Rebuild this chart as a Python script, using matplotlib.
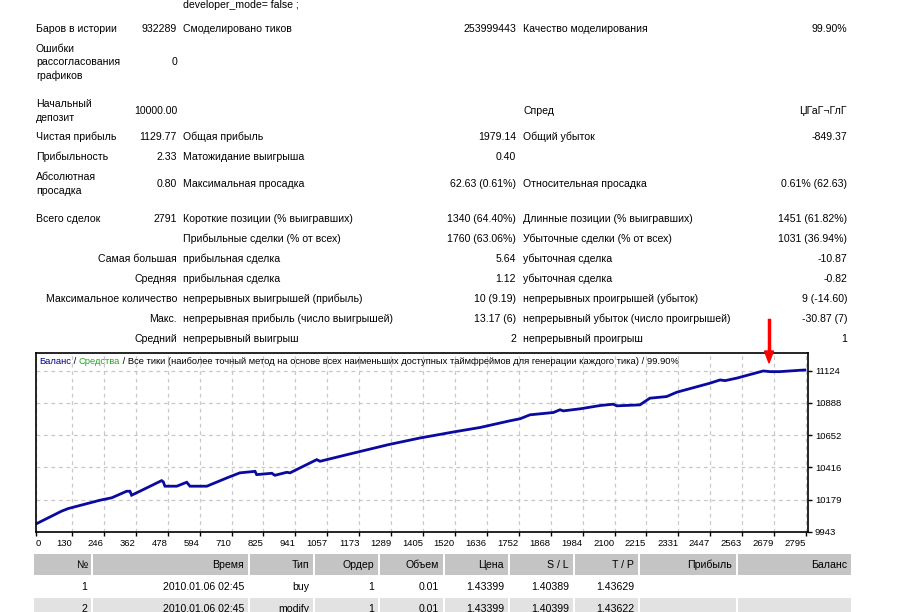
import matplotlib
matplotlib.use("Agg")
import matplotlib.pyplot as plt
from matplotlib.patches import Rectangle, Polygon

# ---------------- data ----------------
trade_no = [0, 93, 117, 232, 275, 329, 341, 347, 377, 456, 462, 468, 511, 547, 559,
            620, 698, 740, 795, 801, 856, 867, 910, 922, 1019, 1031, 1140, 1279,
            1394, 1515, 1612, 1720, 1757, 1793, 1878, 1902, 1914, 1975, 2047, 2095,
            2108, 2192, 2228, 2289, 2326, 2446, 2483, 2501, 2543, 2640, 2664, 2700,
            2773, 2791]
balance = [10000, 10094, 10113, 10174, 10192, 10240, 10240, 10211, 10240, 10318,
           10309, 10277, 10277, 10306, 10277, 10277, 10342, 10375, 10386, 10362,
           10372, 10357, 10379, 10375, 10472, 10460, 10514, 10582, 10631, 10675,
           10708, 10757, 10772, 10801, 10818, 10838, 10830, 10845, 10869, 10879,
           10867, 10874, 10923, 10935, 10967, 11033, 11057, 11052, 11070, 11123,
           11118, 11118, 11128, 11130]
x_ticks = [0, 130, 246, 362, 478, 594, 710, 825, 941, 1057, 1173, 1289, 1405, 1520,
           1636, 1752, 1868, 1984, 2100, 2215, 2331, 2447, 2563, 2679, 2795]
y_ticks = [9943, 10179, 10416, 10652, 10888, 11124]

# report rows: (y, left label lines, left value, mid label, mid value, right label, right value)
report_rows = [
    (29, ["Баров в истории"], "932289", "Смоделировано тиков", "253999443", "Качество моделирования", "99.90%"),
    (62, ["Ошибки", "рассогласования", "графиков"], "0", "", "", "", ""),
    (111, ["Начальный", "депозит"], "10000.00", "", "", "Спред", "ЏГаГ¬ГлГ"),
    (137, ["Чистая прибыль"], "1129.77", "Общая прибыль", "1979.14", "Общий убыток", "-849.37"),
    (157, ["Прибыльность"], "2.33", "Матожидание выигрыша", "0.40", "", ""),
    (184, ["Абсолютная", "просадка"], "0.80", "Максимальная просадка", "62.63 (0.61%)", "Относительная просадка", "0.61% (62.63)"),
    (219, ["Всего сделок"], "2791", "Короткие позиции (% выигравших)", "1340 (64.40%)", "Длинные позиции (% выигравших)", "1451 (61.82%)"),
]
stat_rows = [
    (239, "", "Прибыльные сделки (% от всех)", "1760 (63.06%)", "Убыточные сделки (% от всех)", "1031 (36.94%)"),
    (259, "Самая большая", "прибыльная сделка", "5.64", "убыточная сделка", "-10.87"),
    (279, "Средняя", "прибыльная сделка", "1.12", "убыточная сделка", "-0.82"),
    (299, "Максимальное количество", "непрерывных выигрышей (прибыль)", "10 (9.19)", "непрерывных проигрышей (убыток)", "9 (-14.60)"),
    (319, "Макс.", "непрерывная прибыль (число выигрышей)", "13.17 (6)", "непрерывный убыток (число проигрышей)", "-30.87 (7)"),
    (339, "Средний", "непрерывный выигрыш", "2", "непрерывный проигрыш", "1"),
]
table_header = ["№", "Время", "Тип", "Ордер", "Объем", "Цена", "S / L", "T / P", "Прибыль", "Баланс"]
table_rows = [
    ["1", "2010.01.06 02:45", "buy", "1", "0.01", "1.43399", "1.40389", "1.43629", "", ""],
    ["2", "2010.01.06 02:45", "modify", "1", "0.01", "1.43399", "1.40399", "1.43622", "", ""],
]

# ---------------- figure ----------------
W, H = 919, 612
fig = plt.figure(figsize=(W / 100, H / 100), dpi=100)
fig.patch.set_facecolor("white")
FONT = "Liberation Sans"
FS = 7.6

bg = fig.add_axes([0, 0, 1, 1])
bg.set_xlim(0, W)
bg.set_ylim(H, 0)
bg.axis("off")

def t(x, y, s, ha="left", **kw):
    kw.setdefault("fontsize", FS)
    kw.setdefault("family", FONT)
    bg.text(x, y, s, ha=ha, va="center", color=kw.pop("color", "black"), **kw)

t(183, 5, "developer_mode= false ;")

LX, LV, MX, MV, RX, RV = 36, 177, 183, 516, 523, 847
for y, lines, lv, ml, mv, rl, rv in report_rows:
    n = len(lines)
    for i, line in enumerate(lines):
        t(LX, y + (i - (n - 1) / 2) * 13.5, line)
    t(LV, y, lv, ha="right")
    t(MX, y, ml)
    t(MV, y, mv, ha="right")
    t(RX, y, rl)
    t(RV, y, rv, ha="right")
for y, ll, ml, mv, rl, rv in stat_rows:
    t(LV, y, ll, ha="right")
    t(MX, y, ml)
    t(MV, y, mv, ha="right")
    t(RX, y, rl)
    t(RV, y, rv, ha="right")

# ---------------- chart ----------------
cx0, cx1, cy0, cy1 = 36, 808, 353, 532
ax = fig.add_axes([cx0 / W, 1 - cy1 / H, (cx1 - cx0) / W, (cy1 - cy0) / H])
px_per_x = 0.2755
ax.set_xlim(0, (cx1 - cx0) / px_per_x)
y_per_px = 7.316
ax.set_ylim(9943 - 0.3 * y_per_px, 9943 + (532.3 - cy0) * y_per_px)
ax.set_xticks(x_ticks)
ax.set_yticks(y_ticks)
ax.grid(True, color="#c8c8c8", linestyle=(0, (3, 3)), linewidth=0.9)
ax.set_axisbelow(True)
for sp in ax.spines.values():
    sp.set_color("black")
    sp.set_linewidth(1.2)
ax.yaxis.tick_right()
ax.tick_params(axis="both", direction="out", length=3, width=1, colors="black",
               labelsize=6.8, pad=2)
ax.set_xticklabels([str(v) for v in x_ticks], family=FONT)
ax.set_yticklabels([str(v) for v in y_ticks], family=FONT)
labs = ax.get_xticklabels()
for i, lb in enumerate(labs):
    lb.set_ha("left" if i == 0 else "right")
ax.plot(trade_no, balance, color="#0a0aa0", linewidth=2.0, solid_joinstyle="miter")

# multi-coloured title inside the chart
fig.canvas.draw()
renderer = fig.canvas.get_renderer()
parts = [("Баланс", "#000080"), (" / ", "black"), ("Средства", "#1fa81f"),
         (" / Все тики (наиболее точный метод на основе всех наименьших доступных "
          "таймфреймов для генерации каждого тика) / 99.90%", "black")]
xpos = 39
for s, c in parts:
    txt = bg.text(xpos, 361, s, ha="left", va="center", color=c, fontsize=6.75,
                  family=FONT, zorder=20)
    bb = txt.get_window_extent(renderer=renderer)
    xpos += bb.width
bg.set_zorder(5)
bg.patch.set_alpha(0)

# red arrow
bg.plot([769, 769], [320, 353], color="#ff0000", linewidth=2.5, zorder=30)
bg.add_patch(Polygon([[764.5, 351], [773.5, 351], [769, 363]], closed=True,
                     facecolor="#ff0000", edgecolor="#ff0000", zorder=30))

# ---------------- trade table ----------------
col_right = [91, 248, 313, 378, 443, 508, 573, 638, 736, 851]
col_left = [34] + [c + 2 for c in col_right[:-1]]
hy0, hy1 = 554, 575
for l, r, s in zip(col_left, col_right, table_header):
    bg.add_patch(Rectangle((l, hy0), r - l, hy1 - hy0, facecolor="#c4c4c4",
                           edgecolor="none", zorder=1))
    t(r - 4, (hy0 + hy1) / 2, s, ha="right")
row_y = [(577, 597), (598, 619)]
row_bg = ["white", "#e2e2e2"]
for (y0, y1), fc, row in zip(row_y, row_bg, table_rows):
    if fc != "white":
        bg.add_patch(Rectangle((col_left[0], y0), col_right[-1] - col_left[0], y1 - y0,
                               facecolor=fc, edgecolor="none", zorder=1))
        for r in col_right[:-1]:
            bg.add_patch(Rectangle((r, y0), 2, y1 - y0, facecolor="white",
                                   edgecolor="none", zorder=1))
    for r, s in zip(col_right, row):
        t(r - 4, (y0 + y1) / 2, s, ha="right")

fig.savefig("out.png", dpi=100)
